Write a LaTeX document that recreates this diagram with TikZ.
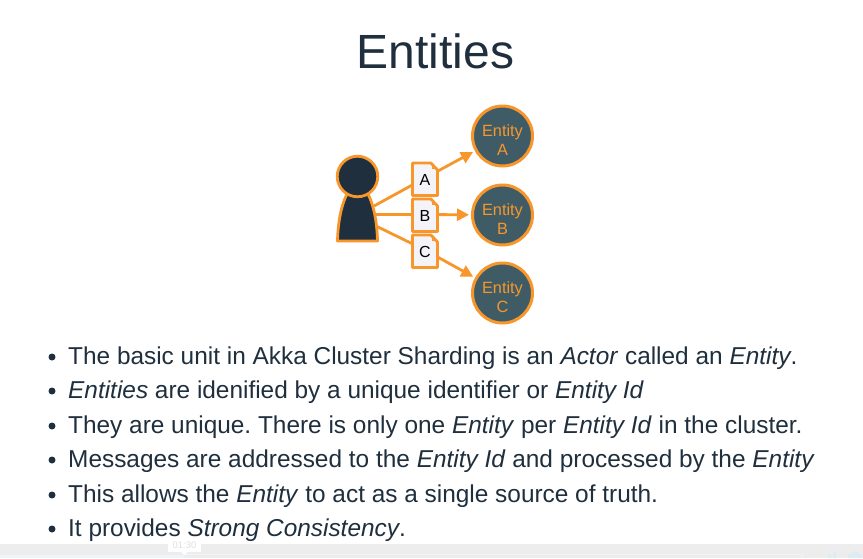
\documentclass[tikz,border=0pt]{standalone}
\usepackage{fontspec}
\setmainfont{Liberation Sans}
\usetikzlibrary{arrows.meta}
\definecolor{ink}{HTML}{1F2F3D}
\definecolor{org}{HTML}{F7962B}
\definecolor{teal}{HTML}{3F5C66}
\definecolor{pap}{HTML}{F3F3F8}
\definecolor{barc}{HTML}{EDEDED}
\definecolor{faintblue}{HTML}{EEF5FA}
\definecolor{iconblue}{HTML}{DDEBF3}
\tikzset{
 x=1pt,y=-1pt,
 entity/.style={circle,draw=org,fill=teal,line width=3pt,minimum size=60pt,inner sep=0pt,text=org,font=\fontsize{16.3}{19}\selectfont,align=center,text depth=0pt},
 msg/.style={org,line width=2.8pt},
 arr/.style={msg,-{Triangle[length=12pt,width=12pt]},shorten >=2pt},
 bul/.style={anchor=base west,text=ink,font=\fontsize{24.4}{28}\selectfont,inner sep=0pt},
 dot/.style={circle,fill=ink,inner sep=0pt,minimum size=7pt},
 paper/.style={draw=org,fill=pap,line width=2.8pt,line join=round},
 lab/.style={text=black,font=\fontsize{16}{19}\selectfont,inner sep=0pt}
}
\newcommand{\entlabel}[1]{\raisebox{2.5pt}{\begin{tabular}{@{}c@{}}Entity\\[0pt]#1\end{tabular}}}
\begin{document}
\frenchspacing
\begin{tikzpicture}
\useasboundingbox (0,0) rectangle (863,558);
\fill[white] (0,0) rectangle (863,558);
\fill[barc] (0,544) rectangle (863,558);
\fill[faintblue] (0,555) rectangle (184,558);
\draw[white!30!barc,line width=0.8pt] (184,554.5) -- (802,554.5) -- (802,558);
\fill[iconblue] (828,554) rectangle (831,558) (833,552) rectangle (836,558) (848,555) -- (855,551) -- (862,555) -- (862,558) -- (848,558) -- cycle;
\node[anchor=base,text=ink,font=\fontsize{48}{56}\selectfont,inner sep=0pt] (title) at (435.5,68) {Entities};
% entities
\node[entity] (ea) at (502.5,136) {\entlabel{A}};
\node[entity] (eb) at (502.5,215) {\entlabel{B}};
\node[entity] (ec) at (502.5,293) {\entlabel{C}};
% person
\coordinate (pa) at (374,206);
\coordinate (pb) at (376,214.5);
\coordinate (pc) at (376,226);
% connectors under the papers
\coordinate (ma) at (425,178);
\coordinate (mb) at (425,214.5);
\coordinate (mc) at (425,250);
\draw[msg] (pa) -- (ma);
\draw[msg] (pb) -- (mb);
\draw[msg] (pc) -- (mc);
\draw[arr] (ma) -- (ea);
\draw[arr] (mb) -- (eb);
\draw[arr] (mc) -- (ec);
% papers
\foreach \n/\y/\t in {a/163/A,b/199/B,c/235/C}{
 \draw[paper] (412.5,\y) -- (431,\y) -- (437.5,\y+7) -- (437.5,\y+32.5) -- (412.5,\y+32.5) -- cycle;
 \draw[org,line width=1pt] (432,\y+1) -- (432,\y+5.5) -- (436.5,\y+5.5);
 \node[lab] (p\n) at (425,\y+16.5) {\t};
}
% person body
\path[draw=org,fill=ink,line width=2.8pt,line join=round] (337.5,241) .. controls (338,222) and (341,205) .. (348,192) -- (367,192) .. controls (374,205) and (377,222) .. (377.5,241) -- cycle;
\node[circle,draw=org,fill=ink,line width=2.8pt,minimum size=40.5pt,inner sep=0pt] (head) at (357.5,176.5) {};
% bullets
\foreach \y in {356,390,425,459,494,528}{\node[dot] at (52,\y+1) {};}
\node[bul] (l1) at (68,364) {The basic unit in Akka Cluster Sharding is an \textit{Actor} called an \textit{Entity}.};
\node[bul] (l2) at (68,398.5) {\textit{Entities} are idenified by a unique identifier or \textit{Entity Id}};
\node[bul] (l3) at (68,433) {They are unique. There is only one \textit{Entity} per \textit{Entity Id} in the cluster.};
\node[bul] (l4) at (68,467.5) {Messages are addressed to the \textit{Entity Id} and processed by the \textit{Entity}};
\node[bul] (l5) at (68,502) {This allows the \textit{Entity} to act as a single source of truth.};
\node[bul] (l6) at (68,536.5) {It provides \textit{Strong Consistency}.};
% tooltip
\fill[white] (168,537) rectangle (201,552);
\fill[white] (181,552) -- (188,552) -- (184.5,555) -- cycle;
\node[text=black!12,font=\fontsize{9.5}{11}\selectfont,inner sep=0pt] (tip) at (184.5,545) {01:30};
\end{tikzpicture}
\end{document}
